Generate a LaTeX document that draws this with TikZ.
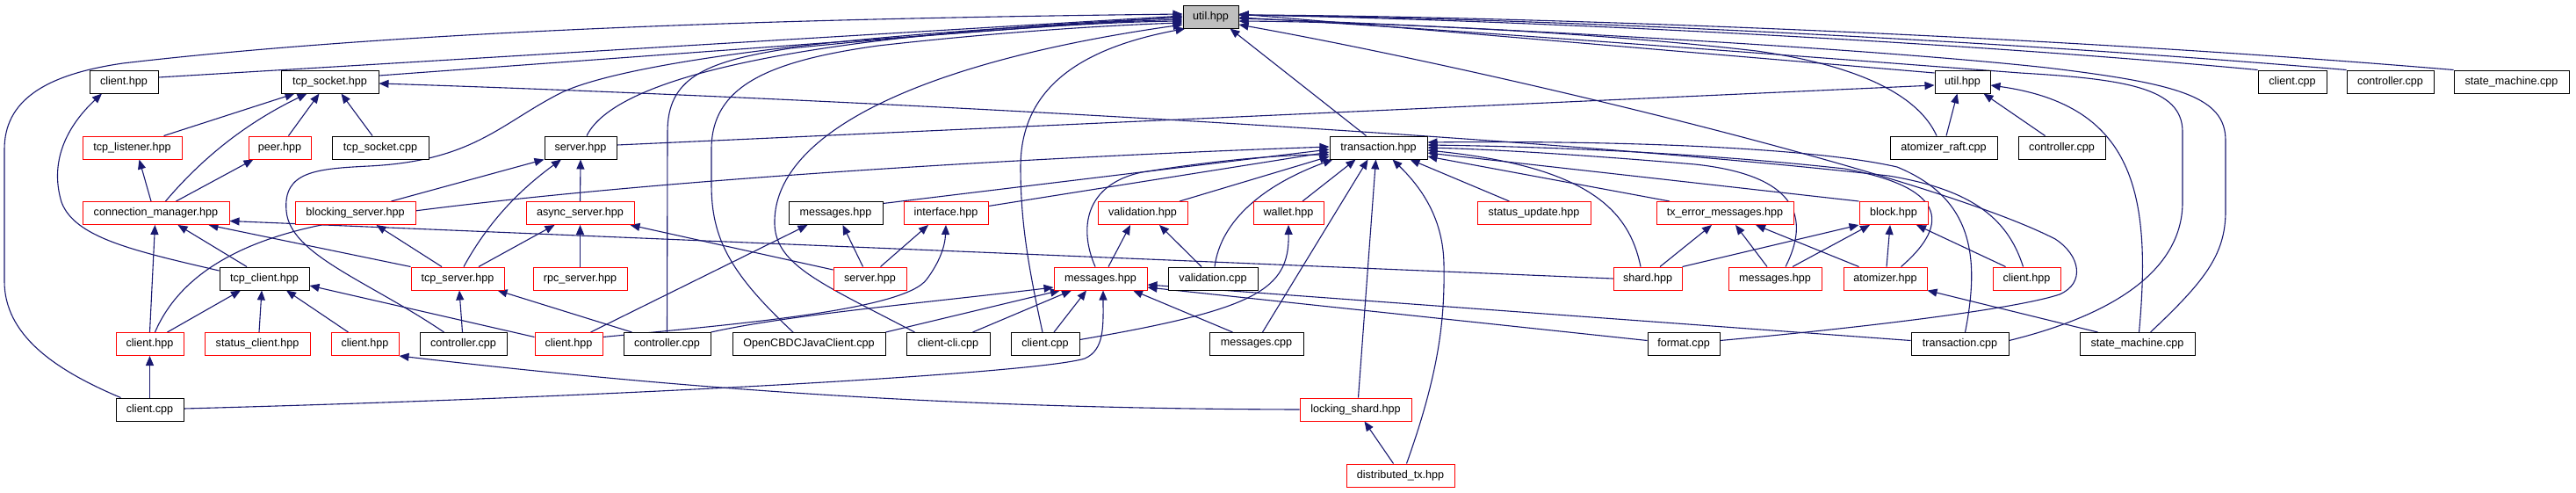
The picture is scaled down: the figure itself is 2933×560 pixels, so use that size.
\documentclass[tikz,border=0pt]{standalone}
\usepackage{fontspec}
\setmainfont{Liberation Sans}
\usetikzlibrary{arrows.meta,calc}
\definecolor{edgeblue}{RGB}{25,25,112}
\definecolor{nodered}{RGB}{255,0,0}
\definecolor{rootgray}{RGB}{191,191,191}
\pgfdeclarelayer{edgelayer}
\pgfdeclarelayer{bglayer}
\pgfsetlayers{bglayer,edgelayer,main}
\newcommand\mknode[6]{\node[#6,minimum width=#5pt] (#1) at (#3,#4) {#2};}
\begin{document}
\begin{tikzpicture}[x=1pt,y=-1pt,
  nbox/.style={draw=black, line width=1pt, fill=white, minimum height=26pt, inner sep=0pt, font=\fontsize{12.6}{15}\selectfont},
  rbox/.style={nbox, draw=nodered},
  gbox/.style={nbox, fill=rootgray},
  edg/.style={draw=edgeblue, line width=1.1pt, -{Triangle[length=11pt,width=9pt]}}]
\begin{pgfonlayer}{bglayer}
\fill[white] (0,0) rectangle (2933,560);
\end{pgfonlayer}
\useasboundingbox (0,0) rectangle (2933,560);
% row 0
\mknode{n0}{util.hpp}{1378.5}{19}{63}{gbox}
% row 1
\mknode{cliHone}{client.hpp}{141}{93}{78}{nbox}
\mknode{sock}{tcp\_socket.hpp}{375.5}{93}{111}{nbox}
\mknode{utiltwo}{util.hpp}{2234.5}{93}{63}{nbox}
\mknode{cliCone}{client.cpp}{2610}{93}{78}{nbox}
\mknode{ctrlCone}{controller.cpp}{2721.5}{93}{99}{nbox}
\mknode{smCone}{state\_machine.cpp}{2859.5}{93}{131}{nbox}
% row 2
\mknode{lis}{tcp\_listener.hpp}{150.5}{168}{113}{rbox}
\mknode{peer}{peer.hpp}{318.5}{168}{71}{rbox}
\mknode{sockC}{tcp\_socket.cpp}{433}{168}{110}{nbox}
\mknode{srv}{server.hpp}{661}{168}{82}{nbox}
\mknode{tx}{transaction.hpp}{1569.5}{168}{111}{nbox}
\mknode{raft}{atomizer\_raft.cpp}{2213}{168}{122}{nbox}
\mknode{ctrlCtwo}{controller.cpp}{2347.5}{168}{99}{nbox}
% row 3
\mknode{cm}{connection\_manager.hpp}{177.5}{242.5}{167}{rbox}
\mknode{bs}{blocking\_server.hpp}{404.5}{242.5}{137}{rbox}
\mknode{as}{async\_server.hpp}{660.5}{242.5}{123}{rbox}
\mknode{msgB}{messages.hpp}{951.5}{242.5}{107}{nbox}
\mknode{itf}{interface.hpp}{1077}{242.5}{96}{rbox}
\mknode{val}{validation.hpp}{1301}{242.5}{102}{rbox}
\mknode{wal}{wallet.hpp}{1467}{242.5}{80}{rbox}
\mknode{su}{status\_update.hpp}{1746.5}{242.5}{129}{rbox}
\mknode{txe}{tx\_error\_messages.hpp}{1964}{242.5}{156}{rbox}
\mknode{blk}{block.hpp}{2156}{242.5}{78}{rbox}
% row 4
\mknode{tcpc}{tcp\_client.hpp}{301}{317}{102}{nbox}
\mknode{tcps}{tcp\_server.hpp}{521}{317}{106}{rbox}
\mknode{rpc}{rpc\_server.hpp}{660.5}{317}{107}{rbox}
\mknode{srvR}{server.hpp}{990.5}{317}{83}{rbox}
\mknode{msgR}{messages.hpp}{1253}{317}{106}{rbox}
\mknode{valC}{validation.cpp}{1381}{317}{102}{nbox}
\mknode{shd}{shard.hpp}{1876}{317}{78}{rbox}
\mknode{msgRtwo}{messages.hpp}{2021}{317}{106}{rbox}
\mknode{atm}{atomizer.hpp}{2146.5}{317}{95}{rbox}
\mknode{cliHR}{client.hpp}{2307.5}{317}{77}{rbox}
% row 5
\mknode{cliHa}{client.hpp}{170.5}{391.5}{77}{rbox}
\mknode{stc}{status\_client.hpp}{293}{391.5}{120}{rbox}
\mknode{cliHb}{client.hpp}{415.5}{391.5}{77}{rbox}
\mknode{ctrlCa}{controller.cpp}{527.5}{391.5}{99}{nbox}
\mknode{cliHc}{client.hpp}{647.5}{391.5}{77}{rbox}
\mknode{ctrlCb}{controller.cpp}{759.5}{391.5}{99}{nbox}
\mknode{java}{OpenCBDCJavaClient.cpp}{921}{391.5}{174}{nbox}
\mknode{cli}{client-cli.cpp}{1079.5}{391.5}{95}{nbox}
\mknode{cliCtwo}{client.cpp}{1190}{391.5}{78}{nbox}
\mknode{msgC}{messages.cpp}{1430.5}{391.5}{107}{nbox}
\mknode{fmt}{format.cpp}{1917}{391.5}{82}{nbox}
\mknode{txC}{transaction.cpp}{2231.5}{391.5}{111}{nbox}
\mknode{smCtwo}{state\_machine.cpp}{2433.5}{391.5}{131}{nbox}
% row 6
\mknode{cliCthree}{client.cpp}{170.5}{466}{77}{nbox}
\mknode{lock}{locking\_shard.hpp}{1543.5}{466}{127}{rbox}
% row 7
\mknode{dtx}{distributed\_tx.hpp}{1594.5}{541}{123}{rbox}

\begin{pgfonlayer}{edgelayer}
% into util.hpp (root)
\draw[edg] ($(cliCthree.north)+(-33,0)$) .. controls (60,420) and (5,380) .. (5,320) -- (5,170) .. controls (5,115) and (50,85) .. (140,72) .. controls (500,30) and (1000,20) .. ($(n0.west)+(0,-3)$);
\draw[edg] ($(cliHone.east)+(0,-5)$) -- ($(n0.west)+(0,-1)$);
\draw[edg] ($(sock.east)+(0,-7)$) -- ($(n0.west)+(0,0)$);
\draw[edg] ($(srv.north)+(7,0)$) .. controls (700,90) and (900,40) .. ($(n0.west)+(0,1)$);
\draw[edg] ($(ctrlCa.north)+(-22,0)$) .. controls (420,320) and (330,290) .. (326,240) .. controls (322,195) and (360,192) .. (420,189) .. controls (540,183) and (570,140) .. (640,105) .. controls (720,68) and (1000,35) .. ($(n0.west)+(0,3)$);
\draw[edg] (ctrlCb.north) -- (760,150) .. controls (760,90) and (800,70) .. (900,55) .. controls (1100,35) and (1250,25) .. ($(n0.west)+(0,5)$);
\draw[edg] ($(java.north)+(-18,0)$) .. controls (830,310) and (810,270) .. (810,210) -- (810,170) .. controls (810,100) and (870,70) .. (1000,52) .. controls (1150,35) and (1280,28) .. ($(n0.west)+(0,7)$);
\draw[edg] ($(cli.north)+(-38,0)$) .. controls (930,320) and (880,300) .. (882,250) .. controls (885,150) and (1050,70) .. ($(n0.west)+(0,9)$);
\draw[edg] ($(cliCtwo.north)+(-3,0)$) .. controls (1170,300) and (1162,250) .. (1162,190) .. controls (1162,100) and (1230,55) .. ($(n0.south west)+(3,0)$);
\draw[edg] ($(tx.north)+(-14,0)$) -- ($(n0.south)+(22,0)$);
\draw[edg] ($(utiltwo.west)+(0,-10)$) -- ($(n0.east)+(0,-3)$);
\draw[edg] (cliCone.north west) .. controls (2200,45) and (1700,22) .. ($(n0.east)+(0,-2)$);
\draw[edg] (ctrlCone.north west) .. controls (2200,40) and (1700,20) .. ($(n0.east)+(0,-2)$);
\draw[edg] (smCone.north west) .. controls (2300,38) and (1700,18) .. ($(n0.east)+(0,-2)$);
\draw[edg] ($(txC.east)+(0,-4)$) .. controls (2420,355) and (2485,300) .. (2485,230) -- (2485,150) .. controls (2485,100) and (2420,90) .. (2300,83) .. controls (2000,60) and (1600,30) .. ($(n0.east)+(0,1)$);
\draw[edg] ($(smCtwo.north)+(15,0)$) .. controls (2510,320) and (2534,290) .. (2534,240) -- (2534,160) .. controls (2534,110) and (2480,95) .. (2330,77) .. controls (2100,52) and (1600,27) .. ($(n0.east)+(0,2)$);
\draw[edg] ($(fmt.east)+(0,-4)$) .. controls (2150,370) and (2300,350) .. (2345,335) .. controls (2375,322) and (2368,290) .. (2340,272) .. controls (2200,200) and (1700,80) .. ($(n0.east)+(0,9)$);
\draw[edg] ($(raft.north)+(-8,0)$) .. controls (2185,110) and (2120,75) .. (2000,58) .. controls (1800,35) and (1550,25) .. ($(n0.east)+(0,5)$);
% into util.hpp (second)
\draw[edg] ($(srv.east)+(0,-3)$) -- ($(utiltwo.west)+(0,4)$);
\draw[edg] ($(raft.north)+(3,0)$) -- ($(utiltwo.south)+(-6,0)$);
\draw[edg] ($(ctrlCtwo.north)+(-19,0)$) -- ($(utiltwo.south east)+(-8,0)$);
\draw[edg] ($(smCtwo.north)+(2,0)$) .. controls (2450,220) and (2430,120) .. ($(utiltwo.east)+(0,4)$);
% into tcp_socket.hpp
\draw[edg] ($(lis.north)+(36,0)$) -- ($(sock.south)+(-40,0)$);
\draw[edg] ($(cm.north)+(11,0)$) .. controls (230,180) and (280,140) .. ($(sock.south)+(-26,0)$);
\draw[edg] ($(peer.north)+(10,0)$) -- ($(sock.south)+(-12,0)$);
\draw[edg] ($(sockC.north)+(-9,0)$) -- ($(sock.south)+(13,0)$);
\draw[edg] ($(cliHR.north)+(-4,0)$) .. controls (2285,245) and (2240,215) .. (2150,200) .. controls (1700,150) and (900,110) .. ($(sock.east)+(0,2)$);
% into client.hpp (top)
\draw[edg] ($(tcpc.west)+(0,-9)$) .. controls (150,285) and (85,270) .. (70,230) .. controls (55,180) and (80,140) .. ($(cliHone.south)+(-25,0)$);
% into tcp_listener / peer
\draw[edg] ($(cm.north)+(-5.5,0)$) -- ($(lis.south)+(8,0)$);
\draw[edg] ($(cm.north)+(23,0)$) -- ($(peer.south)+(-30,0)$);
% into connection_manager
\draw[edg] (cliHa.north) -- ($(cm.south)+(-1,0)$);
\draw[edg] ($(tcpc.north)+(-20,0)$) -- ($(cm.south)+(25,0)$);
\draw[edg] (tcps.north west) -- ($(cm.south)+(60,0)$);
\draw[edg] (shd.west) -- ($(cm.east)+(0,9)$);
% into server.hpp (rpc)
\draw[edg] ($(bs.north)+(41,0)$) -- (srv.south west);
\draw[edg] ($(tcps.north)+(7,0)$) .. controls (560,245) and (600,210) .. ($(srv.south)+(-22,0)$);
\draw[edg] (as.north) -- (srv.south);
% into blocking / async server
\draw[edg] ($(tcps.north)+(-18,0)$) -- ($(bs.south)+(24,0)$);
\draw[edg] ($(tcps.north)+(24,0)$) -- ($(as.south)+(-29,0)$);
\draw[edg] (rpc.north) -- (as.south);
\draw[edg] ($(srvR.west)+(0,-10)$) -- ($(as.south east)+(-5,0)$);
% into tcp_client
\draw[edg] ($(cliHa.north)+(20,0)$) -- ($(tcpc.south)+(-27,0)$);
\draw[edg] ($(stc.north)+(2,0)$) -- ($(tcpc.south)+(-3,0)$);
\draw[edg] ($(cliHb.north)+(-19,0)$) -- ($(tcpc.south)+(25,0)$);
\draw[edg] ($(cliHc.west)+(0,-8)$) -- ($(tcpc.east)+(0,8)$);
% into tcp_server
\draw[edg] ($(ctrlCa.north)+(-1,0)$) -- ($(tcps.south)+(2,0)$);
\draw[edg] ($(ctrlCb.north)+(-40,0)$) -- ($(tcps.south east)+(-8,0)$);
% client.hpp (left) / client.hpp (locking)
\draw[edg] (cliCthree.north) -- (cliHa.south);
\draw[edg] (lock.west) .. controls (1100,465) and (800,445) .. (cliHb.south east);
% into messages.hpp (black) / interface.hpp
\draw[edg] ($(srvR.north)+(-8,0)$) -- ($(msgB.south)+(8,0)$);
\draw[edg] ($(cliHc.north)+(25,0)$) -- ($(msgB.south)+(-32,0)$);
\draw[edg] ($(srvR.north)+(12,0)$) -- ($(itf.south)+(-20,0)$);
\draw[edg] ($(cliHc.east)+(0,-8)$) .. controls (850,368) and (1030,352) .. (1055,318) .. controls (1070,298) and (1076,280) .. (itf.south);
% into validation.hpp / wallet.hpp
\draw[edg] ($(msgR.north)+(9,0)$) -- ($(val.south)+(-14,0)$);
\draw[edg] ($(valC.north)+(-13,0)$) -- ($(val.south)+(19,0)$);
\draw[edg] ($(cliCtwo.east)+(0,-5)$) .. controls (1430,352) and (1468,330) .. (wal.south);
% into messages.hpp (red, middle)
\draw[edg] (ctrlCb.north east) .. controls (900,358) and (1050,345) .. ($(msgR.west)+(0,10)$);
\draw[edg] (java.north east) -- ($(msgR.south)+(-46,0)$);
\draw[edg] ($(cli.north)+(28,0)$) -- ($(msgR.south)+(-33,0)$);
\draw[edg] ($(cliCtwo.north)+(10,0)$) -- ($(msgR.south)+(-16,0)$);
\draw[edg] ($(cliCthree.east)+(0,-1)$) .. controls (700,452) and (1180,425) .. (1235,408) .. controls (1258,398) and (1256,370) .. ($(msgR.south)+(3,0)$);
\draw[edg] ($(msgC.north)+(-27,0)$) -- ($(msgR.south)+(37,0)$);
\draw[edg] ($(fmt.west)+(0,-4)$) -- ($(msgR.east)+(0,10)$);
\draw[edg] ($(txC.west)+(0,-4)$) -- ($(msgR.east)+(0,7)$);
% into transaction.hpp
\draw[edg] ($(cliHa.north)+(6,0)$) .. controls (210,300) and (300,265) .. (400,250) .. controls (700,205) and (1200,178) .. ($(tx.west)+(0,-1)$);
\draw[edg] ($(msgB.east)+(0,-11)$) -- ($(tx.west)+(0,2)$);
\draw[edg] ($(itf.east)+(0,-8)$) -- ($(tx.west)+(0,5)$);
\draw[edg] ($(val.north)+(42,0)$) -- ($(tx.west)+(0,10)$);
\draw[edg] ($(msgR.north)+(-6,0)$) .. controls (1228,260) and (1235,210) .. (1300,196) .. controls (1400,180) and (1470,176) .. ($(tx.west)+(0,8)$);
\draw[edg] ($(valC.north)+(2,0)$) .. controls (1390,250) and (1440,210) .. ($(tx.south west)+(4,0)$);
\draw[edg] ($(wal.north)+(16,0)$) -- ($(tx.south)+(-26,0)$);
\draw[edg] ($(msgC.north)+(7,0)$) -- ($(tx.south)+(-12,0)$);
\draw[edg] ($(lock.north)+(3,0)$) -- ($(tx.south)+(-3,0)$);
\draw[edg] ($(dtx.north)+(7,0)$) .. controls (1640,420) and (1645,360) .. (1644,300) .. controls (1643,250) and (1620,215) .. ($(tx.south)+(16,0)$);
\draw[edg] ($(su.north)+(-28,0)$) -- ($(tx.south east)+(-20,0)$);
\draw[edg] ($(txe.north)+(-63,0)$) -- ($(tx.east)+(0,10)$);
\draw[edg] (blk.north west) -- ($(tx.east)+(0,6)$);
\draw[edg] ($(shd.north)+(-8,0)$) .. controls (1855,240) and (1810,190) .. ($(tx.east)+(0,3)$);
\draw[edg] ($(msgRtwo.north)+(12,0)$) .. controls (2060,250) and (2050,200) .. (1930,187) .. controls (1800,176) and (1700,170) .. ($(tx.east)+(0,0)$);
\draw[edg] ($(atm.north)+(18,0)$) .. controls (2215,260) and (2225,215) .. (2100,192) .. controls (1900,170) and (1700,166) .. ($(tx.east)+(0,-3)$);
\draw[edg] ($(txC.north)+(6,0)$) .. controls (2255,290) and (2245,225) .. (2160,190) .. controls (2050,165) and (1800,160) .. ($(tx.east)+(0,-6)$);
% into tx_error_messages / block
\draw[edg] ($(shd.north)+(14,0)$) -- ($(txe.south)+(-15,0)$);
\draw[edg] ($(msgRtwo.north)+(-9,0)$) -- ($(txe.south)+(12,0)$);
\draw[edg] ($(atm.north)+(-30,0)$) -- ($(txe.south)+(35,0)$);
\draw[edg] (shd.north east) -- (blk.south west);
\draw[edg] ($(msgRtwo.north)+(20,0)$) -- ($(blk.south)+(-27,0)$);
\draw[edg] ($(atm.north)+(1.5,0)$) -- ($(blk.south)+(-4,0)$);
\draw[edg] ($(cliHR.north)+(-24,0)$) -- ($(blk.south)+(26,0)$);
% into atomizer.hpp / locking_shard.hpp
\draw[edg] ($(smCtwo.north)+(-45,0)$) -- (atm.south east);
\draw[edg] ($(dtx.north)+(-8,0)$) -- ($(lock.south)+(10,0)$);
\end{pgfonlayer}
\end{tikzpicture}
\end{document}
